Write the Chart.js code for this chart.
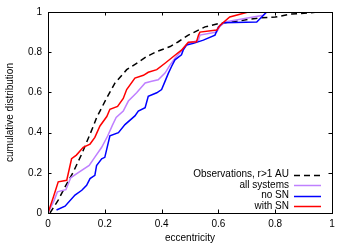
<!DOCTYPE html>
<html>
<head>
<meta charset="utf-8">
<script src="https://cdn.jsdelivr.net/npm/chart.js@4"></script>
<style>
  html, body { margin: 0; padding: 0; background: #fff; }
  #wrap { width: 350px; height: 245px; }
</style>
</head>
<body>
<div id="wrap"><canvas id="grafico"></canvas></div>
<script>
// dados (excentricidade, distribuição cumulativa)
const obsE = [0.007, 0.036, 0.06, 0.089, 0.119, 0.16, 0.171, 0.207, 0.236, 0.277, 0.312, 0.347, 0.383, 0.43, 0.459, 0.494, 0.553, 0.60, 0.682, 0.74, 0.80, 0.858, 0.917, 0.95];
const obsC = [0, 0.064, 0.13, 0.204, 0.294, 0.433, 0.474, 0.573, 0.647, 0.713, 0.745, 0.778, 0.803, 0.828, 0.852, 0.885, 0.926, 0.942, 0.958, 0.97, 0.975, 0.99, 0.995, 1.0];

const allE = [0, 0.022, 0.033, 0.063, 0.08, 0.10, 0.145, 0.165, 0.189, 0.21, 0.227, 0.24, 0.265, 0.283, 0.312, 0.342, 0.365, 0.388, 0.412, 0.43, 0.447, 0.494, 0.53, 0.535, 0.594, 0.606, 0.623, 0.758, 0.77];
const allC = [0, 0.064, 0.105, 0.116, 0.175, 0.195, 0.237, 0.278, 0.327, 0.383, 0.437, 0.475, 0.507, 0.557, 0.598, 0.647, 0.655, 0.663, 0.696, 0.737, 0.77, 0.844, 0.86, 0.885, 0.90, 0.93, 0.95, 0.984, 1.0];

const noSnE = [0.03, 0.06, 0.095, 0.119, 0.136, 0.148, 0.165, 0.171, 0.189, 0.20, 0.218, 0.248, 0.271, 0.306, 0.318, 0.342, 0.353, 0.383, 0.40, 0.412, 0.424, 0.435, 0.447, 0.47, 0.476, 0.488, 0.512, 0.547, 0.588, 0.60, 0.617, 0.735, 0.77];
const noSnC = [0.015, 0.034, 0.089, 0.113, 0.138, 0.171, 0.187, 0.236, 0.27, 0.277, 0.384, 0.40, 0.44, 0.483, 0.507, 0.524, 0.58, 0.598, 0.614, 0.655, 0.696, 0.729, 0.762, 0.787, 0.81, 0.836, 0.844, 0.86, 0.885, 0.926, 0.947, 0.95, 1.0];

const withSnE = [0, 0.019, 0.036, 0.066, 0.083, 0.10, 0.124, 0.148, 0.165, 0.183, 0.207, 0.218, 0.245, 0.265, 0.277, 0.306, 0.336, 0.353, 0.383, 0.412, 0.447, 0.47, 0.494, 0.523, 0.53, 0.535, 0.594, 0.606, 0.64, 0.705];
const withSnC = [0, 0.08, 0.155, 0.163, 0.27, 0.288, 0.327, 0.343, 0.376, 0.433, 0.48, 0.516, 0.53, 0.57, 0.614, 0.671, 0.685, 0.70, 0.713, 0.745, 0.785, 0.81, 0.85, 0.852, 0.885, 0.90, 0.91, 0.934, 0.975, 1.0];

const rotulos = ['Observations, r>1 AU', 'all systems', 'no SN', 'with SN'];
const cores = ['#000000', '#bf80ff', '#0000ff', '#ff0000'];
const tracos = [[6, 4], [], [], []];
const ticksX = [0, 0.2, 0.4, 0.6, 0.8, 1];
const ticksY = [0, 0.2, 0.4, 0.6, 0.8, 1];

const pontos = (xs, ys) => xs.map((x, i) => ({ x, y: ys[i] }));
const series = [pontos(obsE, obsC), pontos(allE, allC), pontos(noSnE, noSnC), pontos(withSnE, withSnC)];

const fonte = { family: "'Liberation Sans', Arial, sans-serif", size: 10 };

// moldura com ticks para dentro + legenda no canto inferior direito (estilo gnuplot)
const estiloGnuplot = {
  id: 'estiloGnuplot',
  afterDraw(chart) {
    const ctx = chart.ctx;
    const { left, right, top, bottom } = chart.chartArea;
    const sx = chart.scales.x, sy = chart.scales.y;
    const t = 3.5;
    ctx.save();
    ctx.strokeStyle = '#000';
    ctx.lineWidth = 1;
    ctx.setLineDash([]);
    ctx.beginPath();
    ticksX.forEach(v => {
      const px = Math.round(sx.getPixelForValue(v)) + 0.5;
      ctx.moveTo(px, bottom); ctx.lineTo(px, bottom - t);
      ctx.moveTo(px, top); ctx.lineTo(px, top + t);
    });
    ticksY.forEach(v => {
      const py = Math.round(sy.getPixelForValue(v)) + 0.5;
      ctx.moveTo(left, py); ctx.lineTo(left + t, py);
      ctx.moveTo(right, py); ctx.lineTo(right - t, py);
    });
    ctx.stroke();
    ctx.strokeRect(Math.round(left) + 0.5, Math.round(top) + 0.5, Math.round(right - left), Math.round(bottom - top));

    // legenda
    ctx.font = `${fonte.size}px ${fonte.family}`;
    ctx.textAlign = 'right';
    ctx.textBaseline = 'middle';
    chart.data.datasets.forEach((ds, i) => {
      const y = 174.5 + i * 10.5;
      ctx.fillStyle = '#000';
      ctx.fillText(ds.label, 289, y);
      ctx.strokeStyle = ds.borderColor;
      ctx.lineWidth = 1.5;
      ctx.setLineDash(ds.borderDash || []);
      ctx.beginPath();
      ctx.moveTo(294, Math.round(y) + 0.5);
      ctx.lineTo(321, Math.round(y) + 0.5);
      ctx.stroke();
    });
    ctx.restore();
  }
};

new Chart(document.getElementById('grafico'), {
  type: 'line',
  data: {
    datasets: series.map((d, i) => ({
      label: rotulos[i],
      data: d,
      borderColor: cores[i],
      borderDash: tracos[i],
      borderWidth: 1.5,
      pointRadius: 0,
      tension: 0,
      fill: false,
      order: 4 - i
    }))
  },
  options: {
    responsive: true,
    maintainAspectRatio: false,
    animation: false,
    layout: { padding: { top: 10, right: 18, left: 0, bottom: 0 } },
    plugins: {
      legend: { display: false },
      tooltip: { enabled: false }
    },
    scales: {
      x: {
        type: 'linear',
        min: 0,
        max: 1,
        afterFit: s => { s.height = 32; },
        afterBuildTicks: s => { s.ticks = ticksX.map(v => ({ value: v })); },
        grid: { display: false, drawTicks: false },
        border: { display: false },
        ticks: {
          color: '#000',
          font: fonte,
          padding: 5,
          maxRotation: 0,
          callback: v => String(+v.toFixed(1))
        },
        title: { display: true, text: 'eccentricity', color: '#000', font: fonte, padding: { top: 0, bottom: 1 } }
      },
      y: {
        min: 0,
        max: 1,
        afterFit: s => { s.width = 48; },
        afterBuildTicks: s => { s.ticks = ticksY.map(v => ({ value: v })); },
        grid: { display: false, drawTicks: false },
        border: { display: false },
        ticks: {
          color: '#000',
          font: fonte,
          padding: 6,
          callback: v => String(+v.toFixed(1))
        },
        title: { display: true, text: 'cumulative distribution', color: '#000', font: fonte, padding: { top: 4, bottom: 0 } }
      }
    }
  },
  plugins: [estiloGnuplot]
});
</script>
</body>
</html>
